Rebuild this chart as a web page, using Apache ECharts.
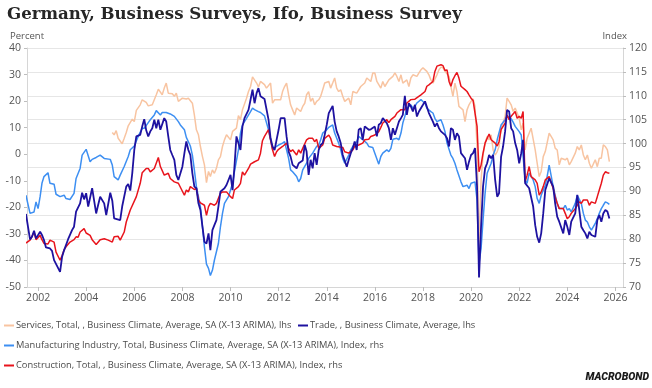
<!DOCTYPE html>
<html>
<head>
<meta charset="utf-8">
<script src="https://cdn.jsdelivr.net/npm/echarts@6/dist/echarts.min.js"></script>
<style>
html,body{margin:0;padding:0;background:#fff;}
#chart{width:652px;height:388px;}
</style>
</head>
<body>
<div id="chart"></div>
<script>
// Year tick labels (placed at 1 January)
const yearTicks = ['2002','2004','2006','2008','2010','2012','2014','2016','2018','2020','2022','2024','2026'];

const seriesNames = [
  'Services, Total, , Business Climate, Average, SA (X-13 ARIMA), lhs',
  'Trade, , Business Climate, Average, lhs',
  'Manufacturing Industry, Total, Business Climate, Average, SA (X-13 ARIMA), Index, rhs',
  'Construction, Total, , Business Climate, Average, SA (X-13 ARIMA), Index, rhs'
];

// Services, balance (lhs)
const servicesData = [
['2005-01',8.2],['2005-02',7.3],['2005-03',8.9],['2005-04',6],['2005-06',3.9],['2005-07',6],['2005-08',8.2],['2005-09',10.7],['2005-11',13.2],['2005-12',12.3],
['2006-01',16.5],['2006-03',18.6],['2006-04',20.5],['2006-06',19.5],['2006-07',18.2],['2006-09',18.6],['2006-11',22.4],['2006-12',24.5],
['2007-02',22.4],['2007-03',24.9],['2007-04',26.8],['2007-05',23],['2007-07',22.8],['2007-08',21.8],['2007-09',23],['2007-10',19.9],['2007-12',21.1],
['2008-02',20.8],['2008-03',21.1],['2008-05',19.2],['2008-06',14.8],['2008-07',9.2],['2008-08',7.3],['2008-09',2.9],['2008-10',-0.9],['2008-11',-4],['2008-12',-10.7],
['2009-01',-6.5],['2009-02',-8.4],['2009-03',-5.9],['2009-04',-7.2],['2009-05',-5.3],['2009-06',-2.1],['2009-07',-0.9],['2009-08',2.9],['2009-09',5.4],['2009-10',7.3],['2009-12',5.4],
['2010-01',8.6],['2010-02',7.9],['2010-03',9.8],['2010-04',14.5],['2010-05',13],['2010-06',16.7],['2010-08',21.1],['2010-09',23.6],['2010-10',25.5],['2010-11',29.1],
['2011-01',26.8],['2011-02',25.3],['2011-03',27.4],['2011-05',26.2],['2011-06',24.9],['2011-08',26.8],['2011-09',19.2],['2011-10',20.5],['2011-11',21.1],
['2012-01',20.5],['2012-02',23.6],['2012-03',25.5],['2012-04',26.8],['2012-05',22.4],['2012-06',18.6],['2012-07',16.7],['2012-08',14.8],['2012-09',17.4],['2012-11',16.1],['2012-12',18],
['2013-01',19.2],['2013-02',22.4],['2013-03',23.6],['2013-04',19.9],['2013-05',21.1],['2013-06',18.6],['2013-07',19.9],['2013-08',20.5],['2013-09',21.8],['2013-10',24.3],['2013-11',26.8],
['2014-01',27.4],['2014-02',24.9],['2014-03',26.8],['2014-04',28.7],['2014-05',24.9],['2014-06',23.6],['2014-07',24.3],['2014-08',21.8],['2014-09',19.9],['2014-11',21.1],['2014-12',18.6],
['2015-01',23.6],['2015-02',24.3],['2015-03',23],['2015-05',25.5],['2015-06',26.2],['2015-07',26.8],['2015-08',28.7],['2015-10',27.4],['2015-11',30.6],['2015-12',30.6],
['2016-01',27.4],['2016-03',24.9],['2016-04',27.4],['2016-05',25.5],['2016-06',26.2],['2016-07',28],['2016-09',29.3],['2016-10',30.6],['2016-11',29.3],['2016-12',27.4],
['2017-01',29.9],['2017-02',26.8],['2017-04',28],['2017-05',25.5],['2017-06',28.7],['2017-07',29.9],['2017-09',29.3],['2017-10',30.6],['2017-11',31.8],['2017-12',32.5],
['2018-02',31.2],['2018-03',29.9],['2018-04',28],['2018-05',26.8],['2018-07',29.9],['2018-08',31.8],['2018-09',32.8],['2018-10',32.5],['2018-11',31.2],
['2019-01',29.3],['2019-02',25.5],['2019-03',21.8],['2019-04',26.8],['2019-05',23.6],['2019-06',18],['2019-08',16.7],['2019-09',12.3],['2019-10',16.7],['2019-11',18.6],['2019-12',19.9],
['2020-01',20.8],['2020-02',18],['2020-03',3],['2020-04',-34.8],['2020-05',-9.7],['2020-06',-0.3],['2020-07',4.2],['2020-08',6.7],['2020-09',5.4],['2020-10',7.3],['2020-11',1.6],['2020-12',-0.3],
['2021-01',1],['2021-02',2.9],['2021-03',9.8],['2021-05',14.2],['2021-06',21.1],['2021-07',19.9],['2021-08',18.6],['2021-09',16.1],['2021-10',17.4],['2021-12',13.6],
['2022-01',9.2],['2022-02',11.7],['2022-03',1.6],['2022-04',6],['2022-05',7.9],['2022-06',9.8],['2022-08',1.6],['2022-09',-3.4],['2022-10',-8.4],['2022-11',-6.5],['2022-12',-0.9],
['2023-01',1],['2023-03',7.9],['2023-04',6.7],['2023-05',5.4],['2023-06',2.3],['2023-07',1.6],['2023-08',-4],['2023-09',-1.5],['2023-11',-2.1],['2023-12',-1.5],
['2024-01',-4],['2024-02',-2.8],['2024-04',0.4],['2024-05',2.9],['2024-06',1.6],['2024-07',3.5],['2024-08',-0.3],['2024-09',-2.1],['2024-10',-0.3],['2024-11',-3.4],['2024-12',-5.3],
['2025-02',-2.1],['2025-03',-4.7],['2025-04',-1.5],['2025-05',-1.5],['2025-06',3.5],['2025-07',2.9],['2025-08',1.6],['2025-09',-2.8]
];

// Trade, balance (lhs)
const tradeData = [
['2001-06',-22.5],['2001-08',-32.1],['2001-09',-31.1],['2001-10',-28.8],['2001-11',-31.7],
['2002-01',-29.2],['2002-02',-30.4],['2002-03',-32.3],['2002-04',-35.1],['2002-06',-35.5],['2002-07',-36.4],['2002-08',-39.9],['2002-09',-39.9],['2002-11',-44.3],['2002-12',-38.6],
['2003-01',-36.1],['2003-03',-32.1],['2003-05',-28.6],['2003-06',-27.3],['2003-07',-21.6],['2003-09',-18.5],['2003-10',-14.5],['2003-11',-17],['2003-12',-14.7],
['2004-01',-19.7],['2004-02',-20.4],['2004-03',-12.8],['2004-05',-22.3],['2004-06',-19.1],['2004-07',-16],['2004-09',-18.5],['2004-10',-22.9],['2004-12',-14.5],
['2005-01',-17.5],['2005-02',-24.2],['2005-05',-24.8],['2005-06',-19.7],['2005-08',-12.2],['2005-09',-11.2],['2005-10',-13.7],['2005-11',-7.2],['2005-12',1.6],
['2006-01',6.7],['2006-03',7.3],['2006-04',10.4],['2006-05',13.2],['2006-06',9],['2006-07',6.7],['2006-08',8.6],['2006-09',9.8],['2006-10',13],['2006-11',9.8],['2006-12',13],
['2007-01',9.2],['2007-03',13.6],['2007-04',12.3],['2007-05',6.7],['2007-06',1.6],['2007-07',-0.3],['2007-08',-2.1],['2007-09',-7.8],['2007-10',-9.7],['2007-11',-10.3],['2007-12',-4.7],
['2008-01',0.4],['2008-02',4.8],['2008-03',1.6],['2008-04',-0.3],['2008-05',-7.2],['2008-06',-12.2],['2008-07',-12.8],['2008-08',-18.5],['2008-09',-21],['2008-10',-27.3],['2008-11',-33],['2008-12',-33.6],
['2009-01',-29.8],['2009-02',-36.1],['2009-03',-28.6],['2009-04',-26.7],['2009-05',-24.8],['2009-06',-19.7],['2009-07',-14.1],['2009-09',-12.8],['2009-10',-11.6],['2009-11',-9.7],['2009-12',-7.8],
['2010-01',-13.5],['2010-02',-5],['2010-03',6.7],['2010-04',7.3],['2010-05',1.6],['2010-06',10.4],['2010-07',13.6],['2010-09',16.7],['2010-10',20.5],['2010-11',24.3],['2010-12',19.2],
['2011-01',23],['2011-02',24.9],['2011-03',21.8],['2011-05',20.8],['2011-07',13],['2011-08',6],['2011-09',2.9],['2011-10',1.6],['2011-11',5.4],['2011-12',9.2],
['2012-01',13.6],['2012-02',13.2],['2012-03',13.6],['2012-04',6.7],['2012-05',1],['2012-06',-0.9],['2012-07',-4],['2012-09',-5.3],['2012-10',-3.4],['2012-11',-2.8],['2012-12',-2.4],
['2013-01',3.5],['2013-02',1],['2013-03',-7.8],['2013-04',-2.1],['2013-05',-5.3],['2013-06',0.4],['2013-07',-4],['2013-08',1.6],['2013-09',3.5],['2013-10',4.2],['2013-11',7.3],['2013-12',11.1],
['2014-01',15.5],['2014-03',18.2],['2014-04',12.3],['2014-05',8.6],['2014-06',6.7],['2014-07',4.2],['2014-08',-0.3],['2014-10',-4.7],['2014-11',-2.1],['2014-12',0.4],
['2015-01',2.3],['2015-02',4.8],['2015-03',1.6],['2015-04',9.2],['2015-05',9.8],['2015-06',5.4],['2015-07',10.5],['2015-09',9.2],['2015-10',9.4],['2015-11',8.9],['2015-12',10.4],
['2016-01',6.7],['2016-02',11.1],['2016-03',11.7],['2016-04',13.6],['2016-06',11.7],['2016-07',9.8],['2016-08',5.4],['2016-09',9.8],['2016-10',7.3],['2016-11',9.8],['2016-12',12.3],
['2017-01',13.6],['2017-02',14.8],['2017-03',22],['2017-04',14.8],['2017-05',19.2],['2017-06',18],['2017-07',16.1],['2017-08',18.6],['2017-09',14.2],['2017-10',16.1],['2017-11',16.1],['2017-12',18.6],
['2018-01',19.9],['2018-02',19.2],['2018-03',15.5],['2018-04',14.8],['2018-05',12.3],['2018-06',10.4],['2018-07',11.7],['2018-08',9.8],['2018-09',8.6],['2018-11',7.3],['2018-12',6],
['2019-01',2.9],['2019-02',9.8],['2019-03',9.2],['2019-04',5.4],['2019-05',7.9],['2019-06',6.7],['2019-07',0.4],['2019-09',-1.5],['2019-10',-5.9],['2019-11',-2.8],['2019-12',-0.3],
['2020-01',0.4],['2020-02',2.3],['2020-03',-12.2],['2020-04',-46.4],['2020-05',-27.3],['2020-06',-12.2],['2020-07',-5.3],['2020-08',-3.4],['2020-09',-0.3],['2020-10',-1.5],['2020-11',-0.3],['2020-12',-9.7],
['2021-01',-16],['2021-02',-14.7],['2021-03',-1],['2021-04',2.9],['2021-05',8.6],['2021-06',16.7],['2021-07',16.1],['2021-08',9.8],['2021-09',8.6],['2021-10',4.2],['2021-11',1.6],['2021-12',-3.4],
['2022-01',0.4],['2022-02',5.4],['2022-03',-10.9],['2022-04',-10.3],['2022-05',-12.8],['2022-07',-19.7],['2022-08',-26.7],['2022-09',-31.1],['2022-10',-33.3],['2022-11',-29.8],['2022-12',-22.3],
['2023-01',-13.5],['2023-03',-9.1],['2023-04',-9.1],['2023-05',-12.2],['2023-06',-18.5],['2023-07',-23.5],['2023-08',-25.4],['2023-09',-24.8],['2023-10',-29.8],['2023-11',-24.8],['2023-12',-27.3],
['2024-01',-30.4],['2024-02',-25.4],['2024-04',-22.3],['2024-05',-15.3],['2024-06',-21],['2024-07',-27.3],['2024-08',-28.6],['2024-09',-29.8],['2024-10',-31.7],['2024-11',-29.2],['2024-12',-30.4],
['2025-02',-31.1],['2025-03',-24.8],['2025-04',-22.9],['2025-05',-25.4],['2025-06',-22.3],['2025-07',-21],['2025-08',-21.6],['2025-09',-24.2]
];

// Manufacturing, index (rhs)
const manufacturingData = [
['2001-06',89.2],['2001-08',85.4],['2001-10',85.7],['2001-11',87.8],['2001-12',86.4],
['2002-01',88.9],['2002-02',91.7],['2002-03',93.1],['2002-05',93.9],['2002-06',91.7],['2002-08',91.5],['2002-09',89.4],['2002-11',88.9],
['2003-01',89.2],['2003-02',88.5],['2003-04',88.3],['2003-06',89.6],['2003-07',92.7],['2003-09',94.8],['2003-10',97.6],['2003-12',98.8],
['2004-02',96.2],['2004-03',96.7],['2004-05',97.1],['2004-07',97.6],['2004-09',96.9],['2004-12',96.7],
['2005-01',95.5],['2005-02',93.1],['2005-04',92.4],['2005-05',93.4],['2005-07',95.2],['2005-09',97.3],['2005-10',98.7],['2005-12',99.5],
['2006-02',101.5],['2006-04',103.2],['2006-05',103.2],['2006-07',104.4],['2006-08',105],['2006-10',106],['2006-11',106.9],
['2007-01',106],['2007-02',106.5],['2007-04',106.5],['2007-06',106.2],['2007-08',105.7],['2007-10',104.6],['2007-11',103.9],
['2008-01',102.9],['2008-02',101.3],['2008-04',99.5],['2008-05',97.6],['2008-06',94.5],['2008-07',91],['2008-09',86.8],['2008-10',82.6],['2008-11',78.4],['2008-12',74.8],
['2009-01',73.9],['2009-02',72.4],['2009-03',73.5],['2009-04',75.6],['2009-06',79.1],['2009-07',82.6],['2009-08',85.4],['2009-09',87.5],['2009-11',88.9],['2009-12',90.3],
['2010-01',91.7],['2010-02',94.1],['2010-04',98.7],['2010-05',102.2],['2010-06',103.9],['2010-08',105.3],['2010-10',106.7],['2010-11',107.4],['2010-12',107.1],
['2011-02',106.7],['2011-03',106.5],['2011-05',105.8],['2011-07',102.9],['2011-08',100.8],['2011-09',98.8],['2011-11',99.4],['2011-12',99.7],
['2012-02',100.1],['2012-03',100.4],['2012-04',98.7],['2012-05',96.9],['2012-06',94.5],['2012-07',94.1],['2012-09',93.1],['2012-10',92],['2012-11',92.7],['2012-12',94.5],
['2013-02',95.9],['2013-03',96.9],['2013-05',98],['2013-07',99.4],['2013-08',99.7],['2013-09',100.8],['2013-10',102.2],['2013-12',102.9],
['2014-01',103.4],['2014-03',103.9],['2014-04',102.2],['2014-06',100.1],['2014-07',98.7],['2014-08',96.9],['2014-09',95.9],['2014-11',97.6],['2014-12',98.7],
['2015-01',99.4],['2015-03',100.4],['2015-04',101.5],['2015-06',100.8],['2015-08',100.1],['2015-09',99.4],['2015-11',99.2],['2015-12',98],
['2016-02',95.7],['2016-03',97.3],['2016-04',98],['2016-06',98.7],['2016-07',98.3],['2016-08',99],['2016-09',100.9],['2016-11',101.1],['2016-12',100.8],
['2017-01',102.2],['2017-02',104.3],['2017-03',105.7],['2017-04',107.4],['2017-06',108.1],['2017-07',107.4],['2017-08',107.8],['2017-09',108.5],['2017-11',109.2],['2017-12',108.8],
['2018-01',108.5],['2018-02',107.4],['2018-04',106.7],['2018-05',106.4],['2018-06',105.3],['2018-07',104.6],['2018-09',105],['2018-10',103.9],['2018-11',102.5],['2018-12',100.1],
['2019-02',97.6],['2019-03',96.9],['2019-04',95.9],['2019-05',94.5],['2019-07',92],['2019-08',91],['2019-09',90.6],['2019-10',91.3],['2019-11',90.6],['2019-12',91.7],
['2020-02',92],['2020-03',88.2],['2020-04',75],['2020-05',78],['2020-06',84],['2020-07',89.6],['2020-08',93.8],['2020-10',95.9],['2020-11',97.6],['2020-12',98.7],
['2021-01',100.8],['2021-03',103.9],['2021-05',105],['2021-06',105.8],['2021-07',105.5],['2021-08',105.2],['2021-09',104.5],['2021-10',103.6],['2021-12',102.5],
['2022-01',101.8],['2022-02',102.2],['2022-03',92.4],['2022-04',91.7],['2022-05',93.8],['2022-07',92.4],['2022-08',91],['2022-09',88.5],['2022-10',87.5],['2022-11',89.2],
['2023-01',91.3],['2023-02',93.1],['2023-03',95.5],['2023-04',95.2],['2023-05',91],['2023-06',89.2],['2023-07',87.5],['2023-08',86.4],['2023-10',86.4],['2023-11',87.1],['2023-12',86.1],
['2024-01',86.4],['2024-02',85.7],['2024-04',87.5],['2024-05',89.2],['2024-06',89.6],['2024-07',87.5],['2024-08',85.4],['2024-09',84],['2024-10',83.6],['2024-11',82.6],['2024-12',81.9],
['2025-02',83.3],['2025-03',84.3],['2025-04',85.4],['2025-05',86.4],['2025-06',87.1],['2025-07',87.8],['2025-08',87.6],['2025-09',87.3]
];

// Construction, index (rhs)
const constructionData = [
['2001-06',79.2],['2001-08',79.8],['2001-09',80.6],['2001-10',81.5],['2001-11',79.9],
['2002-01',80.8],['2002-02',79.9],['2002-03',79.1],['2002-05',79],['2002-06',79.8],['2002-08',79.4],['2002-09',77.3],['2002-11',75.6],['2002-12',76.6],
['2003-01',77.8],['2003-02',78.4],['2003-04',79.4],['2003-06',79.9],['2003-07',80.5],['2003-08',80.4],['2003-09',81.5],['2003-11',82.2],['2003-12',81.3],
['2004-02',80.8],['2004-03',79.9],['2004-05',78.9],['2004-07',79.9],['2004-09',80.1],['2004-11',79.8],
['2005-01',79.4],['2005-02',80.5],['2005-04',80.6],['2005-05',79.8],['2005-07',81.5],['2005-08',83.6],['2005-10',86.1],['2005-11',86.4],
['2006-01',88.9],['2006-03',91.7],['2006-04',93.9],['2006-06',94.8],['2006-07',94.8],['2006-08',94.1],['2006-10',94.8],['2006-12',97.1],
['2007-01',95.2],['2007-03',93.4],['2007-05',93.8],['2007-06',92.7],['2007-08',92],['2007-10',91.7],['2007-11',91.7],
['2008-01',89.2],['2008-02',90.3],['2008-03',89.9],['2008-04',91],['2008-06',90.4],['2008-07',90.6],['2008-08',88.2],['2008-09',87.6],['2008-11',87.1],['2008-12',85],
['2009-01',86.8],['2009-02',87.5],['2009-04',87.1],['2009-05',87.5],['2009-06',87.3],['2009-07',89.6],['2009-08',89.9],['2009-10',89.9],['2009-12',88.9],
['2010-01',88.5],['2010-02',90.3],['2010-04',91],['2010-05',91.7],['2010-06',94.1],['2010-07',93.4],['2010-09',94.8],['2010-10',95.7],['2010-11',95.3],['2010-12',96.2],
['2011-02',96.6],['2011-03',98],['2011-04',100.6],['2011-05',101.5],['2011-07',102.9],['2011-08',100.8],['2011-09',98.7],['2011-10',97.3],['2011-11',98.3],['2011-12',98.8],
['2012-02',99.4],['2012-04',100.1],['2012-05',99],['2012-06',98.3],['2012-07',98.7],['2012-09',97.6],['2012-10',98.7],['2012-11',98],['2012-12',99],
['2013-02',100.8],['2013-03',101.1],['2013-05',101.1],['2013-06',100.4],['2013-07',100.9],['2013-08',99],['2013-10',99.7],['2013-11',101.1],
['2014-01',101.8],['2014-02',101.1],['2014-03',99.7],['2014-05',99.4],['2014-06',99.7],['2014-08',99.2],['2014-09',98.3],['2014-11',98],
['2015-01',98.7],['2015-02',99.4],['2015-04',99.7],['2015-06',100.1],['2015-07',100.8],['2015-09',100.9],['2015-10',101.5],['2015-12',101.8],
['2016-02',102.5],['2016-03',103.4],['2016-04',104.3],['2016-06',105],['2016-07',104.4],['2016-08',105],['2016-10',105.7],['2016-11',106.4],
['2017-01',107.1],['2017-03',107.1],['2017-04',108.5],['2017-06',109.2],['2017-08',109.3],['2017-09',109.5],['2017-11',110.2],
['2018-01',110.9],['2018-02',112],['2018-03',112.3],['2018-04',112.7],['2018-05',113],['2018-06',115.1],['2018-07',116.2],['2018-09',116.5],['2018-10',116.3],['2018-11',115.3],['2018-12',115.4],
['2019-01',113],['2019-02',112],['2019-03',113.4],['2019-04',114.2],['2019-05',114.9],['2019-06',113.7],['2019-07',112],['2019-09',111.3],['2019-10',110.9],['2019-11',110.2],['2019-12',109.5],
['2020-01',109],['2020-02',109.3],['2020-03',103.6],['2020-04',94.1],['2020-05',95.5],['2020-06',98],['2020-07',100.1],['2020-08',101.1],['2020-09',102],['2020-10',100.8],['2020-11',100.8],['2020-12',100.1],
['2021-01',99.5],['2021-02',100.4],['2021-03',102.9],['2021-05',104.3],['2021-06',106],['2021-07',105],['2021-08',105.7],['2021-10',106.7],['2021-11',105.3],['2021-12',105.7],
['2022-01',105.3],['2022-02',106.7],['2022-03',92],['2022-04',93.4],['2022-05',95.2],['2022-06',93.1],['2022-08',92.4],['2022-09',91.7],['2022-10',89.2],['2022-11',89.9],['2022-12',91],
['2023-01',92.4],['2023-03',93.1],['2023-04',92.7],['2023-05',90.6],['2023-06',88.9],['2023-07',87.5],['2023-08',86.4],['2023-10',86.4],['2023-11',85.4],['2023-12',84.3],
['2024-01',84.7],['2024-02',85.4],['2024-04',86.4],['2024-05',87.1],['2024-06',87.8],['2024-07',87.5],['2024-08',88.2],['2024-09',87.8],['2024-10',88.2],['2024-11',87.1],['2024-12',87.8],
['2025-02',87.5],['2025-03',88.9],['2025-04',90.3],['2025-05',91.7],['2025-06',93.4],['2025-07',94.1],['2025-08',93.9],['2025-09',93.8]
];

// Monthly observations are drawn at the end of their month
function monthEnd(s) {
  const p = s.split('-').map(Number);
  return new Date(p[0], p[1], 0).getTime();
}
function toPoints(arr) { return arr.map(d => [monthEnd(d[0]), d[1]]); }
const tickValues = yearTicks.map(y => new Date(Number(y), 0, 1).getTime());

const labelFont = 'Open Sans, Noto Sans, sans-serif';
const chart = echarts.init(document.getElementById('chart'), null, {renderer: 'canvas'});

function legendAt(name, left, top) {
  return {
    data: [name], left: left, top: top, orient: 'horizontal',
    icon: 'rect', itemWidth: 10, itemHeight: 2, itemGap: 0,
    selectedMode: false, padding: 0,
    textStyle: {fontSize: 9.3, color: '#4a4a4a', fontFamily: labelFont, padding: [0,0,0,-3]}
  };
}

chart.setOption({
  animation: false,
  backgroundColor: '#ffffff',
  title: {
    text: 'Germany, Business Surveys, Ifo, Business Survey',
    left: 7, top: 6, padding: 0,
    textStyle: {fontFamily: 'DejaVu Serif', fontWeight: 'bold', fontSize: 16.6, color: '#262626'}
  },
  graphic: [
    {type: 'text', left: 10, top: 31, style: {text: 'Percent', fontSize: 9.5, fill: '#555', fontFamily: labelFont}},
    {type: 'text', right: 25, top: 31, style: {text: 'Index', fontSize: 9.5, fill: '#555', fontFamily: labelFont}},
    {type: 'text', right: 3, top: 372, style: {text: 'MACROBOND', fontSize: 10.5, fontWeight: 900, fontStyle: 'italic', fill: '#1a1a1a', fontFamily: 'Roboto, sans-serif'}}
  ],
  legend: [
    legendAt(seriesNames[0], 4, 321),
    legendAt(seriesNames[1], 298, 321),
    legendAt(seriesNames[2], 4, 341),
    legendAt(seriesNames[3], 4, 361)
  ],
  grid: {left: 27, right: 29, top: 48, bottom: 101, containLabel: false},
  xAxis: {
    type: 'value',
    min: new Date(2001, 6, 16).getTime(),
    max: new Date(2026, 3, 25).getTime(),
    axisLine: {show: true, onZero: false, lineStyle: {color: '#d6d6d6', width: 1}},
    axisTick: {show: true, length: 4, lineStyle: {color: '#bdbdbd'}, customValues: tickValues},
    axisLabel: {
      color: '#555', fontSize: 10.5, fontFamily: labelFont, margin: 6,
      customValues: tickValues,
      formatter: v => String(new Date(v).getFullYear())
    },
    splitLine: {show: false}
  },
  yAxis: [
    {
      type: 'value', position: 'left', min: -50, max: 40, interval: 10,
      axisLine: {show: true, lineStyle: {color: '#d6d6d6'}},
      axisTick: {show: true, length: 3, lineStyle: {color: '#bdbdbd'}},
      axisLabel: {color: '#555', fontSize: 10.5, fontFamily: labelFont, margin: 6},
      splitLine: {show: false}
    },
    {
      type: 'value', position: 'right', min: 70, max: 120, interval: 5,
      axisLine: {show: true, lineStyle: {color: '#d6d6d6'}},
      axisTick: {show: true, length: 3, lineStyle: {color: '#bdbdbd'}},
      axisLabel: {color: '#555', fontSize: 10.5, fontFamily: labelFont, margin: 6},
      splitLine: {show: true, lineStyle: {color: '#e6e6e6', width: 1}}
    }
  ],
  series: [
    {name: seriesNames[0], type: 'line', yAxisIndex: 0, data: toPoints(servicesData), showSymbol: false, symbol: 'none',
     color: '#f8c4a1', lineStyle: {width: 1.5, color: '#f8c4a1'}, z: 2},
    {name: seriesNames[2], type: 'line', yAxisIndex: 1, data: toPoints(manufacturingData), showSymbol: false, symbol: 'none',
     color: '#3d8ff2', lineStyle: {width: 1.5, color: '#3d8ff2'}, z: 3},
    {name: seriesNames[3], type: 'line', yAxisIndex: 1, data: toPoints(constructionData), showSymbol: false, symbol: 'none',
     color: '#e8141c', lineStyle: {width: 1.5, color: '#e8141c'}, z: 4},
    {name: seriesNames[1], type: 'line', yAxisIndex: 0, data: toPoints(tradeData), showSymbol: false, symbol: 'none',
     color: '#1e12a0', lineStyle: {width: 1.8, color: '#1e12a0'}, z: 5}
  ]
});
</script>
</body>
</html>
